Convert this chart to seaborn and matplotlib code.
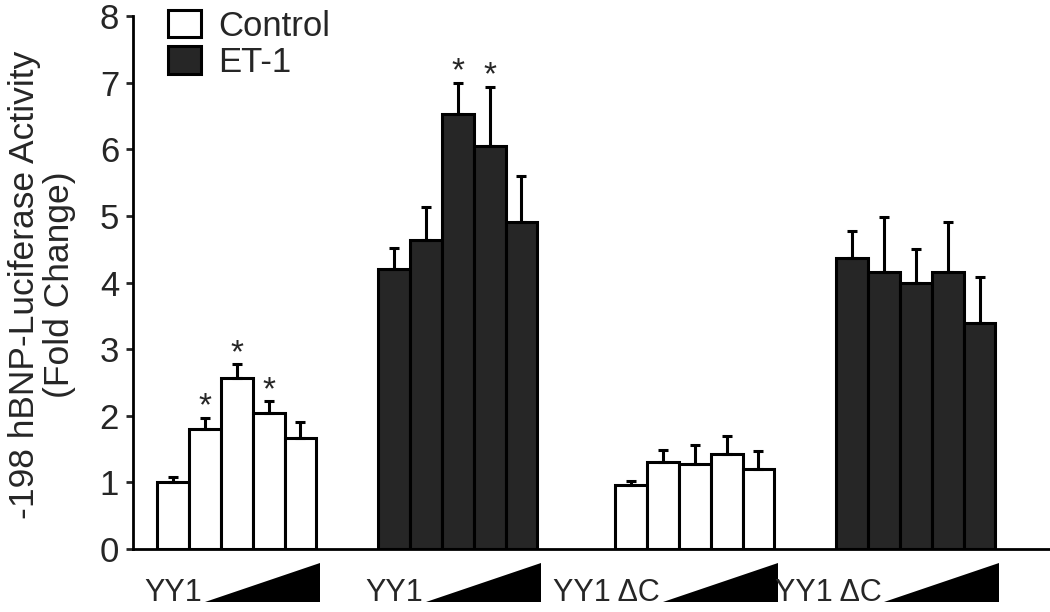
import matplotlib
matplotlib.use("Agg")
import matplotlib.pyplot as plt
from matplotlib.patches import Patch, Polygon
import numpy as np
import pandas as pd
import seaborn as sns

# data
group_labels = ["YY1", "YY1", "YY1 \u0394C", "YY1 \u0394C"]
group_conditions = ["Control", "ET-1", "Control", "ET-1"]
means = [
    [1.00, 1.80, 2.57, 2.04, 1.67],
    [4.20, 4.64, 6.53, 6.05, 4.91],
    [0.96, 1.31, 1.28, 1.43, 1.20],
    [4.37, 4.16, 4.00, 4.16, 3.39],
]
errors = [
    [0.08, 0.17, 0.21, 0.18, 0.24],
    [0.32, 0.49, 0.47, 0.89, 0.69],
    [0.06, 0.18, 0.28, 0.27, 0.27],
    [0.41, 0.82, 0.50, 0.75, 0.69],
]
significant = [
    [False, True, True, True, False],
    [False, False, True, True, False],
    [False] * 5,
    [False] * 5,
]
colors = {"Control": "white", "ET-1": "#262626"}

# layout: left edge of each group, in bar widths
group_start = [0.0, 6.93, 14.36, 21.29]

rows = []
for g, start in enumerate(group_start):
    for i, (m, e, s) in enumerate(zip(means[g], errors[g], significant[g])):
        rows.append({"x": start + i + 0.5, "value": m, "err": e, "star": s,
                     "condition": group_conditions[g]})
df = pd.DataFrame(rows)

sns.set_style("ticks")
plt.rcParams["font.family"] = ["Liberation Sans", "DejaVu Sans"]

fig = plt.figure(figsize=(10.5, 6.12), dpi=100)
ax = fig.add_axes([133 / 1050, 1 - 549 / 612, 1 - 133 / 1050, 533 / 612])

sns.barplot(data=df, x="x", y="value", hue="condition", palette=colors,
            native_scale=True, width=1, edgecolor="black", linewidth=2.2,
            errorbar=None, legend=False, ax=ax)

ax.errorbar(df["x"], df["value"], yerr=[np.zeros(len(df)), df["err"]],
            fmt="none", ecolor="black", elinewidth=2.2, capsize=3.5,
            capthick=2.2, zorder=3)

for _, r in df[df["star"]].iterrows():
    ax.text(r["x"], r["value"] + r["err"] + 0.03, "*", ha="center",
            va="baseline", fontsize=24)

ax.set_xlim(-0.75, 28.0)
ax.set_ylim(0, 8)
ax.set_yticks(range(0, 9))
ax.set_xticks([])
ax.set_xlabel("")
ax.set_ylabel("")
ax.tick_params(axis="y", labelsize=25, length=5, width=2, pad=5)
sns.despine(ax=ax)
for side in ["left", "bottom"]:
    ax.spines[side].set_linewidth(2)
    ax.spines[side].set_color("black")

fig.text(42 / 1050, 1 - 285 / 612,
         "-198 hBNP-Luciferase Activity\n(Fold Change)",
         rotation=90, ha="center", va="center", fontsize=25.5, linespacing=1.05)

# construct labels with increasing-dose wedges under the axis
trans = ax.get_xaxis_transform()
for start, label in zip(group_start, group_labels):
    right = start + 5.1
    left = right - 3.6
    tri = Polygon([(left, -0.099), (right, -0.099), (right, -0.026)],
                  closed=True, facecolor="black", edgecolor="none",
                  transform=trans, clip_on=False)
    ax.add_patch(tri)
    ax.text(left - 0.08, -0.097, label, transform=trans, ha="right",
            va="baseline", fontsize=22)

handles = [Patch(facecolor=colors[c], edgecolor="black", linewidth=2.2, label=c)
           for c in ["Control", "ET-1"]]
ax.legend(handles=handles, loc="upper left", bbox_to_anchor=(0.038, 1.012),
          frameon=False, fontsize=25, handlelength=0.95, handleheight=0.85,
          handletextpad=0.5, labelspacing=0.1, borderpad=0, borderaxespad=0)

fig.savefig("out.png", dpi=100)
